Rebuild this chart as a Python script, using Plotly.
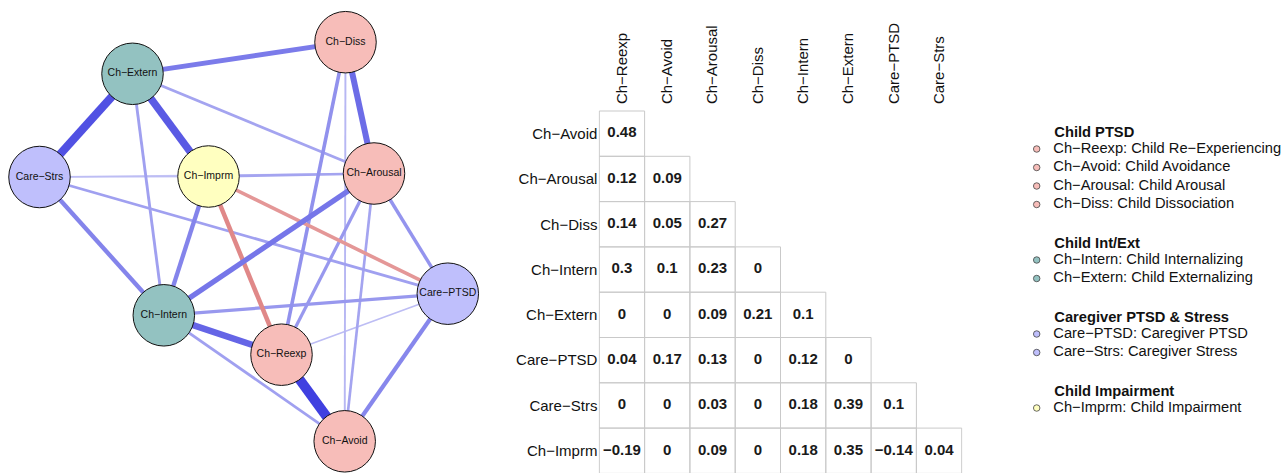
import math
import plotly.graph_objects as go

FONT = "Liberation Sans, Arial, Helvetica, sans-serif"
M = "\u2212"  # minus sign as rendered in the original

# ---------------- data ----------------
var_short = ["Ch" + M + "Reexp", "Ch" + M + "Avoid", "Ch" + M + "Arousal", "Ch" + M + "Diss",
             "Ch" + M + "Intern", "Ch" + M + "Extern", "Care" + M + "PTSD", "Care" + M + "Strs",
             "Ch" + M + "Imprm"]
var_long = ["Child Re" + M + "Experiencing", "Child Avoidance", "Child Arousal", "Child Dissociation",
            "Child Internalizing", "Child Externalizing", "Caregiver PTSD", "Caregiver Stress",
            "Child Impairment"]

# network layout coordinates of each node (same order as var_short)
node_x = [281.5, 344.7, 374.0, 345.5, 163.8, 132.5, 447.8, 39.5, 208.5]
node_y = [354.7, 441.3, 173.5, 42.2, 315.3, 73.8, 293.7, 177.0, 176.5]

# lower-triangle partial correlations (row variable vs. columns Reexp ... Strs)
row_avoid = [0.48]
row_arousal = [0.12, 0.09]
row_diss = [0.14, 0.05, 0.27]
row_intern = [0.3, 0.1, 0.23, 0]
row_extern = [0, 0, 0.09, 0.21, 0.1]
row_ptsd = [0.04, 0.17, 0.13, 0, 0.12, 0]
row_strs = [0, 0, 0.03, 0, 0.18, 0.39, 0.1]
row_imprm = [-0.19, 0, 0.09, 0, 0.18, 0.35, -0.14, 0.04]

group_titles = ["Child PTSD", "Child Int/Ext", "Caregiver PTSD & Stress", "Child Impairment"]
group_members = [[0, 1, 2, 3], [4, 5], [6, 7], [8]]
group_colors = ["#F7BDB9", "#93C2C1", "#BFBFFC", "#FFFFC0"]

# ---------------- styling ----------------
W, H = 1286, 473
rows = [row_avoid, row_arousal, row_diss, row_intern, row_extern, row_ptsd, row_strs, row_imprm]
node_color = [None] * len(var_short)
for g, mem in enumerate(group_members):
    for i in mem:
        node_color[i] = group_colors[g]

edges = []
for r, vals in enumerate(rows):
    for c, v in enumerate(vals):
        if v != 0:
            edges.append((r + 1, c, v))
wmax = max(abs(e[2]) for e in edges)


def edge_color(w):
    a = 0.08 + 0.92 * math.sqrt(abs(w) / wmax)
    base = (64, 64, 224) if w > 0 else (208, 74, 74)
    r, g, b = [round(255 - a * (255 - ch)) for ch in base]
    return f"rgb({r},{g},{b})"


fig = go.Figure()

# network edges (weakest first)
for a, b, w in sorted(edges, key=lambda e: abs(e[2])):
    fig.add_trace(go.Scatter(
        x=[node_x[a], node_x[b]], y=[node_y[a], node_y[b]],
        mode="lines", line=dict(color=edge_color(w), width=1 + 18.5 * abs(w)),
        xaxis="x", yaxis="y", hoverinfo="skip"))

# network nodes
fig.add_trace(go.Scatter(
    x=node_x, y=node_y, mode="markers+text", text=var_short,
    textposition="middle center",
    textfont=dict(family=FONT, size=10.5, color="#111111"),
    marker=dict(size=61.5, color=node_color, line=dict(color="#111111", width=1)),
    xaxis="x", yaxis="y", hoverinfo="skip", cliponaxis=False))

# matrix cells
bx, by = [], []
tx, ty, tt = [], [], []
for r, vals in enumerate(rows):
    for c, v in enumerate(vals):
        bx += [c, c + 1, c + 1, c, c, None]
        by += [r, r, r + 1, r + 1, r, None]
        tx.append(c + 0.5)
        ty.append(r + 0.5)
        s = f"{v:g}".replace("-", M)
        tt.append(s)
fig.add_trace(go.Scatter(x=bx, y=by, mode="lines", line=dict(color="#C9C9C9", width=1),
                         xaxis="x2", yaxis="y2", hoverinfo="skip"))
fig.add_trace(go.Scatter(x=tx, y=ty, mode="text", text=tt, textposition="middle center",
                         textfont=dict(family=FONT, size=15, color="#1a1a1a", weight="bold"),
                         xaxis="x2", yaxis="y2", hoverinfo="skip"))

# legend panel
lg_row = 0
mk_y, mk_c, it_y, it_t, hd_y, hd_t = [], [], [], [], [], []
for g, mem in enumerate(group_members):
    hd_y.append(lg_row)
    hd_t.append(group_titles[g])
    lg_row += 1
    for i in mem:
        mk_y.append(lg_row)
        mk_c.append(group_colors[g])
        it_y.append(lg_row)
        it_t.append(var_short[i] + ": " + var_long[i])
        lg_row += 1
    lg_row += 1

fig.add_trace(go.Scatter(x=[6.7] * len(mk_y), y=mk_y, mode="markers",
                         marker=dict(size=6.5, color=mk_c, line=dict(color="#444444", width=0.8)),
                         xaxis="x3", yaxis="y3", hoverinfo="skip", cliponaxis=False))
fig.add_trace(go.Scatter(x=[23.3] * len(it_y), y=it_y, mode="text", text=it_t,
                         textposition="middle right",
                         textfont=dict(family=FONT, size=14.7, color="#111111"),
                         xaxis="x3", yaxis="y3", hoverinfo="skip", cliponaxis=False))
fig.add_trace(go.Scatter(x=[24.3] * len(hd_y), y=[h + 0.15 for h in hd_y], mode="text", text=hd_t,
                         textposition="middle right",
                         textfont=dict(family=FONT, size=14.7, color="#111111", weight="bold"),
                         xaxis="x3", yaxis="y3", hoverinfo="skip", cliponaxis=False))

# ---------------- axes ----------------
U = 45.3          # cell size in px
mx0, my0 = 599.3, 111.0
pad = 0.02
x2_left = mx0 - pad * U
x2_right = mx0 + (8 + pad) * U
y2_top = my0 - pad * U
n_vis = (H - my0) / U

noax = dict(visible=False, showgrid=False, zeroline=False, fixedrange=True)
fig.update_layout(
    width=W, height=H, margin=dict(l=0, r=0, t=0, b=0),
    paper_bgcolor="white", plot_bgcolor="rgba(0,0,0,0)",
    showlegend=False, hovermode=False,
    font=dict(family=FONT, color="#111111"),
    xaxis=dict(noax, domain=[0, 500 / W], range=[0, 500]),
    yaxis=dict(noax, domain=[0, 1], range=[H, 0]),
    xaxis2=dict(domain=[x2_left / W, x2_right / W], range=[-pad, 8 + pad], side="top",
                tickvals=[i + 0.5 for i in range(8)], ticktext=var_short[:8], tickangle=-90,
                tickfont=dict(family=FONT, size=15, color="#111111"), ticks="",
                showgrid=False, zeroline=False, showline=False, fixedrange=True,
                anchor="y2", ticklabelstandoff=5),
    yaxis2=dict(domain=[0, 1 - y2_top / H], range=[n_vis, -pad],
                tickvals=[i + 0.5 for i in range(8)], ticktext=var_short[1:],
                tickfont=dict(family=FONT, size=15, color="#111111"), ticks="",
                showgrid=False, zeroline=False, showline=False, fixedrange=True,
                anchor="x2"),
    xaxis3=dict(noax, domain=[1030 / W, 1], range=[0, 256]),
    yaxis3=dict(noax, domain=[0, 1], range=[(H - 130.5) / 18.5, -130.5 / 18.5]),
)

fig.write_html("out.html", config={"displayModeBar": False},
               post_script="document.body.style.margin='0';")
